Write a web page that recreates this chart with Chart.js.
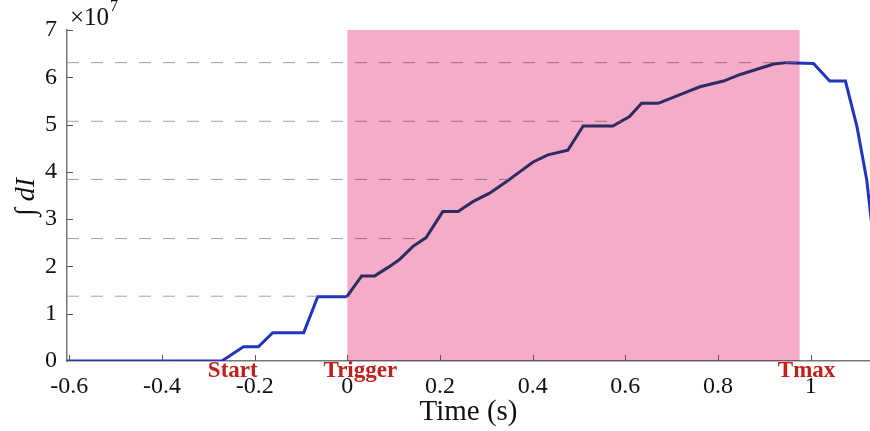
<!DOCTYPE html>
<html>
<head>
<meta charset="utf-8">
<script src="https://cdn.jsdelivr.net/npm/chart.js@4/dist/chart.umd.min.js"></script>
<style>
  html, body { margin: 0; padding: 0; background: #fff; }
  #wrap { width: 870px; height: 431px; }
</style>
</head>
<body>
<div id="wrap"><canvas id="integral"></canvas></div>
<script>
// time (s) and cumulative integral (x 10^7)
const times = [-0.605, -0.271, -0.224, -0.192, -0.161, -0.094, -0.064, -0.001, 0.031, 0.059,
  0.088, 0.112, 0.141, 0.170, 0.206, 0.239, 0.271, 0.307, 0.343, 0.372,
  0.401, 0.433, 0.476, 0.509, 0.573, 0.609, 0.635, 0.671, 0.725, 0.761,
  0.812, 0.848, 0.884, 0.920, 0.948, 1.006, 1.041, 1.075, 1.100, 1.121, 1.135];
const integral = [0, 0, 0.30, 0.30, 0.60, 0.60, 1.36, 1.36, 1.80, 1.80,
  1.98, 2.14, 2.42, 2.61, 3.16, 3.16, 3.37, 3.55, 3.79, 4.00,
  4.21, 4.36, 4.46, 4.97, 4.97, 5.17, 5.45, 5.45, 5.66, 5.80,
  5.92, 6.06, 6.17, 6.28, 6.31, 6.29, 5.92, 5.92, 4.95, 3.83, 2.6];

// 20% steps of the peak, each drawn until the curve first reaches it
const levels = [1.37, 2.59, 3.84, 5.07, 6.31];
const levelEnds = [-0.064, 0.167, 0.350, 0.591, 0.970];

const xTickValues = [-0.6, -0.4, -0.2, 0, 0.2, 0.4, 0.6, 0.8, 1];
const xTickLabels = ['-0.6', '-0.4', '-0.2', '0', '0.2', '0.4', '0.6', '0.8', '1'];
const xMin = -0.605;
const xMax = 1.128;

// event markers
const markers = [
  { label: 'Start', t: -0.271, dx: 11 },
  { label: 'Trigger', t: 0, dx: 13 },
  { label: 'Tmax', t: 0.976, dx: 7 },
];
const windowStart = 0;
const windowEnd = 0.976;

const serif = '"Liberation Serif", "DejaVu Serif", serif';

const levelSets = levels.map((v, i) => ({
  data: [{ x: xMin, y: v }, { x: levelEnds[i], y: v }],
  borderColor: 'rgba(140,140,140,0.8)',
  borderWidth: 1,
  borderDash: [12, 12],
  pointRadius: 0,
  showLine: true,
}));

const inWindow = ctx => {
  const mid = (ctx.p0.parsed.x + ctx.p1.parsed.x) / 2;
  return mid >= windowStart && mid <= windowEnd;
};

const decorations = {
  id: 'decorations',
  afterDatasetsDraw(chart) {
    const { ctx, chartArea: a, scales: { x } } = chart;
    // shaded window between trigger and peak
    ctx.save();
    ctx.globalCompositeOperation = 'multiply';
    ctx.fillStyle = 'rgb(245,172,200)';
    const x0 = x.getPixelForValue(windowStart);
    const x1 = x.getPixelForValue(windowEnd);
    ctx.fillRect(x0, a.top, x1 - x0, a.bottom - a.top);
    ctx.restore();
  },
  afterDraw(chart) {
    const { ctx, chartArea: a, scales: { x, y } } = chart;
    ctx.save();
    // inward tick marks
    ctx.strokeStyle = '#555';
    ctx.lineWidth = 1;
    ctx.beginPath();
    xTickValues.forEach(v => {
      const px = Math.round(x.getPixelForValue(v)) + 0.5;
      ctx.moveTo(px, a.bottom);
      ctx.lineTo(px, a.bottom - 6);
    });
    for (let v = 1; v <= 7; v++) {
      const py = Math.round(y.getPixelForValue(v)) + 0.5;
      ctx.moveTo(a.left, py);
      ctx.lineTo(a.left + 6, py);
    }
    ctx.stroke();

    // event labels
    ctx.fillStyle = 'rgb(192,32,28)';
    ctx.font = 'bold 23px ' + serif;
    ctx.textAlign = 'center';
    ctx.textBaseline = 'top';
    markers.forEach(m => {
      ctx.fillText(m.label, x.getPixelForValue(m.t) + m.dx, a.bottom - 1);
    });

    // axis titles
    ctx.fillStyle = '#111';
    ctx.font = '29px ' + serif;
    ctx.textBaseline = 'middle';
    ctx.fillText('Time (s)', (a.left + a.right) / 2, 412);

    ctx.save();
    ctx.translate(27, 197);
    ctx.rotate(-Math.PI / 2);
    ctx.font = 'italic 28px ' + serif;
    ctx.fillText('\u222B dI', 0, 0);
    ctx.restore();

    // exponent
    ctx.textAlign = 'left';
    ctx.textBaseline = 'alphabetic';
    ctx.font = '25px ' + serif;
    ctx.fillText('\u00D710', 70, 25);
    const w = ctx.measureText('\u00D710').width;
    ctx.font = '16px ' + serif;
    ctx.fillText('7', 71 + w, 11);
    ctx.restore();
  },
};

new Chart(document.getElementById('integral'), {
  type: 'scatter',
  data: {
    datasets: [
      ...levelSets,
      {
        data: times.map((t, i) => ({ x: t, y: integral[i] })),
        borderColor: 'rgb(35,52,190)',
        borderWidth: 3,
        pointRadius: 0,
        showLine: true,
        segment: {
          borderColor: ctx => (inWindow(ctx) ? 'rgb(48,62,125)' : undefined),
        },
      },
    ],
  },
  options: {
    responsive: true,
    maintainAspectRatio: false,
    animation: false,
    layout: { padding: { top: 30, right: 0, left: 0, bottom: 0 } },
    plugins: { legend: { display: false }, tooltip: { enabled: false } },
    scales: {
      x: {
        type: 'linear',
        min: xMin,
        max: xMax,
        afterFit: s => { s.height = 70; },
        afterBuildTicks: s => { s.ticks = xTickValues.map(v => ({ value: v })); },
        grid: { display: false },
        border: { display: true, color: '#777', width: 1.5 },
        ticks: {
          padding: 3,
          color: '#111',
          font: { family: serif, size: 24 },
          maxRotation: 0,
          autoSkip: false,
          callback: (v, i) => xTickLabels[i],
        },
      },
      y: {
        min: 0,
        max: 7,
        afterFit: s => { s.width = 67; },
        grid: { display: false },
        border: { display: true, color: '#777', width: 1.5 },
        ticks: {
          stepSize: 1,
          padding: 2,
          color: '#111',
          font: { family: serif, size: 24 },
        },
      },
    },
  },
  plugins: [decorations],
});
</script>
</body>
</html>
